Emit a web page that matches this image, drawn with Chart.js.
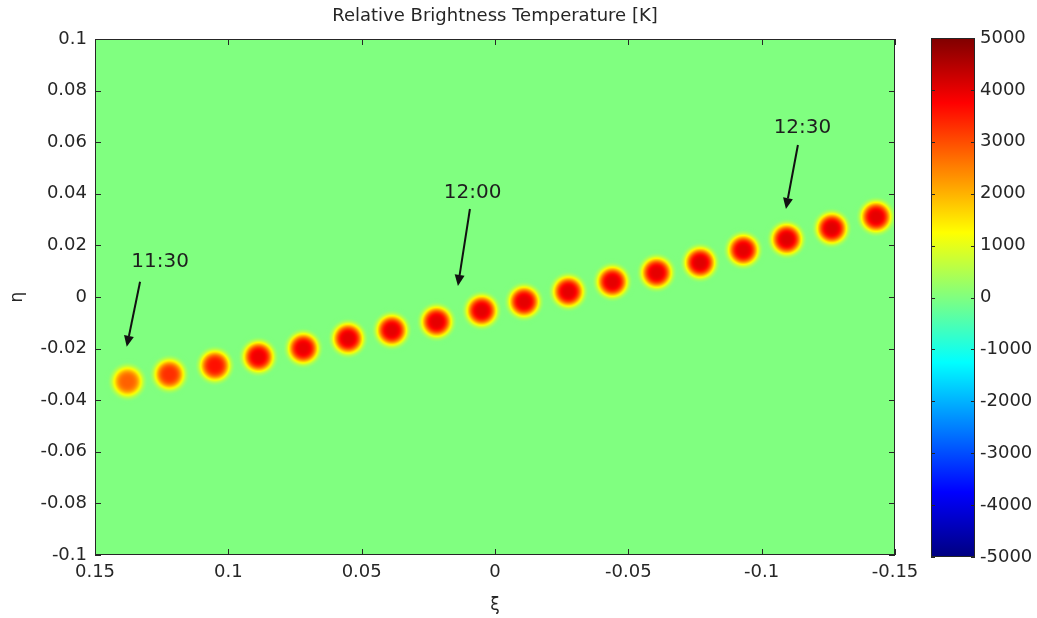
<!DOCTYPE html>
<html>
<head>
<meta charset="utf-8">
<title>Relative Brightness Temperature</title>
<script src="https://cdn.jsdelivr.net/npm/chart.js@4.4.0/dist/chart.umd.min.js"></script>
<style>
    body { margin: 0; background: #ffffff; }
    #wrap { position: relative; width: 1037px; height: 618px; }
    #mapChart { position: absolute; left: 0; top: 0; }
    #barChart { position: absolute; left: 900px; top: 0; }
</style>
</head>
<body>
<div id="wrap">
    <canvas id="mapChart" width="1037" height="618"></canvas>
    <canvas id="barChart" width="137" height="618"></canvas>
</div>
<script>
// --- Data ---

// source positions (xi, eta) and peak brightness temperature [K]
const xiValues  = [0.1378, 0.1221, 0.1050, 0.0887, 0.0719, 0.0551, 0.0387, 0.0219, 0.0050,
                   -0.0109, -0.0275, -0.0440, -0.0606, -0.0769, -0.0931, -0.1094, -0.1263, -0.1429];
const etaValues = [-0.0328, -0.0300, -0.0266, -0.0232, -0.0199, -0.0161, -0.0129, -0.0096, -0.0053,
                   -0.0018, 0.0021, 0.0059, 0.0094, 0.0133, 0.0182, 0.0224, 0.0266, 0.0311];
const peakTemps = [2800, 3300, 3600, 3900, 3950, 4000, 4000, 4000, 4000,
                   4000, 4000, 4000, 4000, 4050, 4000, 4050, 4050, 4000];

// time annotations
const noteLabels   = ['11:30', '12:00', '12:30'];
const noteTextXi   = [0.1256, 0.0084, -0.1153];
const noteTextEta  = [0.0137, 0.0402, 0.0654];
const arrowTailXi  = [0.1331, 0.0094, -0.1136];
const arrowTailEta = [0.0059, 0.0341, 0.0589];
const arrowTipXi   = [0.1381, 0.0139, -0.1091];
const arrowTipEta  = [-0.0193, 0.0043, 0.0341];

// axis ticks
const xiTicks  = [0.15, 0.1, 0.05, 0, -0.05, -0.1, -0.15];
const etaTicks = [0.1, 0.08, 0.06, 0.04, 0.02, 0, -0.02, -0.04, -0.06, -0.08, -0.1];
const cbarTicks = [5000, 4000, 3000, 2000, 1000, 0, -1000, -2000, -3000, -4000, -5000];
const cMin = -5000, cMax = 5000;
const chartTitle = 'Relative Brightness Temperature [K]';

// --- Styling ---
const FONT = '"DejaVu Sans", "Liberation Sans", sans-serif';
const INK = '#262626';
const BLOB_S = 14;   // px, width of the blob profile

function jet(t) {
    const c = v => Math.max(0, Math.min(1, v));
    return [c(1.5 - Math.abs(4 * t - 3)), c(1.5 - Math.abs(4 * t - 2)), c(1.5 - Math.abs(4 * t - 1))]
        .map(v => Math.round(v * 255));
}
const bg = jet(0.5);

// paint one source as a small image, coloured through the jet map
function makeBlob(peak) {
    const size = 48;
    const cv = document.createElement('canvas');
    cv.width = cv.height = size;
    const g = cv.getContext('2d');
    const img = g.createImageData(size, size);
    for (let y = 0; y < size; y++) {
        for (let x = 0; x < size; x++) {
            const r = Math.hypot(x + 0.5 - size / 2, y + 0.5 - size / 2);
            const v = peak * Math.exp(-Math.pow(r / BLOB_S, 4));
            const col = jet((v - cMin) / (cMax - cMin));
            const i = (y * size + x) * 4;
            img.data[i] = col[0];
            img.data[i + 1] = col[1];
            img.data[i + 2] = col[2];
            img.data[i + 3] = Math.round(255 * Math.min(1, v / 150));
        }
    }
    g.putImageData(img, 0, 0);
    return cv;
}
const blobImages = peakTemps.map(makeBlob);

// --- Map chart ---

const mapPlugin = {
    id: 'mapDecor',
    beforeDatasetsDraw(chart) {
        const { ctx, chartArea: a } = chart;
        ctx.save();
        ctx.fillStyle = `rgb(${bg[0]},${bg[1]},${bg[2]})`;
        ctx.fillRect(a.left, a.top, a.right - a.left, a.bottom - a.top);
        ctx.restore();
    },
    afterDatasetsDraw(chart) {
        const { ctx, chartArea: a, scales: { x, y } } = chart;
        ctx.save();
        ctx.strokeStyle = INK;
        ctx.lineWidth = 1;
        ctx.strokeRect(a.left + 0.5, a.top + 0.5, a.right - a.left - 1, a.bottom - a.top - 1);
        ctx.beginPath();
        xiTicks.forEach(v => {
            const px = Math.round(x.getPixelForValue(v)) + 0.5;
            ctx.moveTo(px, a.bottom); ctx.lineTo(px, a.bottom - 6);
            ctx.moveTo(px, a.top); ctx.lineTo(px, a.top + 6);
        });
        etaTicks.forEach(v => {
            const py = Math.round(y.getPixelForValue(v)) + 0.5;
            ctx.moveTo(a.left, py); ctx.lineTo(a.left + 6, py);
            ctx.moveTo(a.right, py); ctx.lineTo(a.right - 6, py);
        });
        ctx.stroke();

        // title, centred over the plot box like MATLAB does
        ctx.fillStyle = INK;
        ctx.font = `18px ${FONT}`;
        ctx.textAlign = 'center';
        ctx.textBaseline = 'middle';
        ctx.fillText(chartTitle, (a.left + a.right) / 2, a.top - 23);

        // arrows and time labels
        ctx.strokeStyle = '#111';
        noteLabels.forEach((lab, i) => {
            const x0 = x.getPixelForValue(arrowTailXi[i]), y0 = y.getPixelForValue(arrowTailEta[i]);
            const x1 = x.getPixelForValue(arrowTipXi[i]), y1 = y.getPixelForValue(arrowTipEta[i]);
            const ang = Math.atan2(y1 - y0, x1 - x0);
            const head = 11, half = 5;
            const bx = x1 - head * Math.cos(ang), by = y1 - head * Math.sin(ang);
            ctx.lineWidth = 2;
            ctx.beginPath();
            ctx.moveTo(x0, y0); ctx.lineTo(bx, by);
            ctx.stroke();
            ctx.fillStyle = '#111';
            ctx.beginPath();
            ctx.moveTo(x1, y1);
            ctx.lineTo(bx + half * Math.sin(ang), by - half * Math.cos(ang));
            ctx.lineTo(bx - half * Math.sin(ang), by + half * Math.cos(ang));
            ctx.closePath();
            ctx.fill();

            ctx.font = `20px ${FONT}`;
            ctx.fillStyle = '#1e1e1e';
            ctx.fillText(lab, x.getPixelForValue(noteTextXi[i]), y.getPixelForValue(noteTextEta[i]));
        });
        ctx.restore();
    }
};

new Chart(document.getElementById('mapChart'), {
    type: 'scatter',
    data: {
        datasets: [{
            data: xiValues.map((v, i) => ({ x: v, y: etaValues[i] })),
            pointStyle: c => blobImages[c.dataIndex],
            pointRadius: 22
        }]
    },
    options: {
        responsive: false,
        animation: false,
        events: [],
        layout: { padding: { left: 0, right: 142, top: 39, bottom: 0 } },
        plugins: {
            legend: { display: false },
            tooltip: { enabled: false }
        },
        scales: {
            x: {
                type: 'linear',
                reverse: true,
                min: -0.15,
                max: 0.15,
                afterBuildTicks: s => { s.ticks = xiTicks.map(v => ({ value: v })); },
                afterFit: s => { s.height = 63; },
                grid: { display: false, drawTicks: false },
                border: { display: false },
                ticks: { color: INK, font: { family: FONT, size: 18 }, padding: 7, maxRotation: 0, callback: v => String(v) },
                title: { display: true, text: 'ξ', color: INK, font: { family: FONT, size: 17 }, padding: { top: 0, bottom: 2 } }
            },
            y: {
                type: 'linear',
                min: -0.1,
                max: 0.1,
                afterBuildTicks: s => { s.ticks = etaTicks.map(v => ({ value: v })); },
                afterFit: s => { s.width = 95; },
                grid: { display: false, drawTicks: false },
                border: { display: false },
                ticks: { color: INK, font: { family: FONT, size: 18 }, padding: 8, callback: v => String(v) },
                title: { display: true, text: 'η', color: INK, font: { family: FONT, size: 17 }, padding: { top: 7, bottom: 0 } }
            }
        }
    },
    plugins: [mapPlugin]
});

// --- Colorbar ---

const barPlugin = {
    id: 'barDecor',
    afterDatasetsDraw(chart) {
        const { ctx, chartArea: a, scales: { y } } = chart;
        ctx.save();
        ctx.strokeStyle = INK;
        ctx.lineWidth = 1;
        ctx.strokeRect(a.left + 0.5, a.top + 0.5, a.right - a.left - 1, a.bottom - a.top - 1);
        ctx.beginPath();
        cbarTicks.forEach(v => {
            const py = Math.round(y.getPixelForValue(v)) + 0.5;
            ctx.moveTo(a.left, py); ctx.lineTo(a.left + 4, py);
            ctx.moveTo(a.right, py); ctx.lineTo(a.right - 4, py);
        });
        ctx.stroke();
        ctx.restore();
    }
};

new Chart(document.getElementById('barChart'), {
    type: 'bar',
    data: {
        labels: ['K'],
        datasets: [{
            data: [[cMin, cMax]],
            barPercentage: 1,
            categoryPercentage: 1,
            borderWidth: 0,
            backgroundColor: c => {
                const a = c.chart.chartArea;
                if (!a) return 'rgb(128,255,128)';
                const grad = c.chart.ctx.createLinearGradient(0, a.bottom, 0, a.top);
                for (let i = 0; i <= 64; i++) {
                    const col = jet(i / 64);
                    grad.addColorStop(i / 64, `rgb(${col[0]},${col[1]},${col[2]})`);
                }
                return grad;
            }
        }]
    },
    options: {
        responsive: false,
        animation: false,
        events: [],
        layout: { padding: { left: 31, right: 0, top: 38, bottom: 61 } },
        plugins: { legend: { display: false }, tooltip: { enabled: false } },
        scales: {
            x: { display: false },
            y: {
                position: 'right',
                min: cMin,
                max: cMax,
                afterBuildTicks: s => { s.ticks = cbarTicks.map(v => ({ value: v })); },
                afterFit: s => { s.width = 62; },
                grid: { display: false, drawTicks: false },
                border: { display: false },
                ticks: { color: INK, font: { family: FONT, size: 18 }, padding: 5, callback: v => String(v) }
            }
        }
    },
    plugins: [barPlugin]
});
</script>
</body>
</html>
